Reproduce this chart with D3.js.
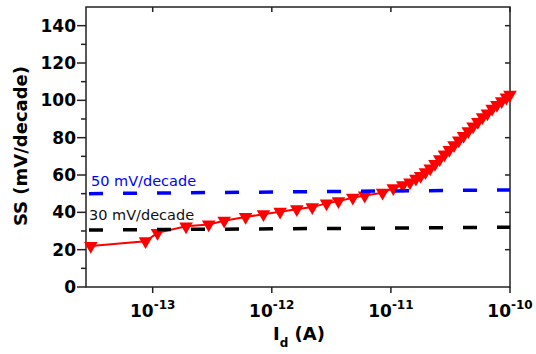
<!DOCTYPE html>
<html><head><meta charset="utf-8">
<script src="https://cdn.jsdelivr.net/npm/d3@7"></script>
<style>body{margin:0;background:#fff}</style>
</head><body>
<svg id="c" width="536" height="354"></svg>
<script>
// data: log10(Id) and SS (mV/decade)
const logId = [-13.52,-13.06,-12.96,-12.72,-12.53,-12.40,-12.22,-12.07,-11.93,-11.79,-11.66,-11.54,-11.44,-11.32,-11.22,-11.07,-10.98,-10.90,-10.84,-10.79,-10.75,-10.71,-10.67,-10.63,-10.59,-10.55,-10.51,-10.47,-10.43,-10.39,-10.35,-10.31,-10.27,-10.23,-10.19,-10.15,-10.11,-10.07,-10.03,-10.00];
const ss = [22,24.5,29,32.5,33.5,35.5,37.5,39,40.3,41.7,42.8,44.8,46,47.8,49,50.5,53,54.5,56,58,59.5,61.5,63.5,66,68.5,71,73.5,76,78.5,81,83.5,86,88.5,91,93,95.5,97.5,99.5,101.5,103];
const refLogId = [-13.56,-10];
const ref50 = [50,52];
const ref30 = [30.5,32];
const xTickExp = [-13,-12,-11,-10];
const yTicks = [0,20,40,60,80,100,120,140];
const yMinor = [10,30,50,70,90,110,130];

const svg = d3.select("#c");
const L=86,R=510,T=7,B=287;
const x = d3.scaleLog().domain([Math.pow(10,-13.56),1e-10]).range([L,R]);
const y = d3.scaleLinear().domain([0,150]).range([B,T]);
const font = "DejaVu Sans";
const axisCol = "#222";

// frame
svg.append("rect").attr("x",L).attr("y",T).attr("width",R-L).attr("height",B-T)
  .attr("fill","none").attr("stroke",axisCol).attr("stroke-width",1.5);

// left axis
const ga = svg.append("g");
yTicks.forEach(v=>{
  ga.append("line").attr("x1",L-9).attr("x2",L).attr("y1",y(v)).attr("y2",y(v)).attr("stroke",axisCol).attr("stroke-width",1.5);
  ga.append("text").attr("x",L-10).attr("y",y(v)+6).attr("text-anchor","end")
    .attr("font-family",font).attr("font-weight","bold").attr("font-size",17).text(v);
  if(v>0) ga.append("line").attr("x1",R-5).attr("x2",R).attr("y1",y(v)).attr("y2",y(v)).attr("stroke",axisCol).attr("stroke-width",1.5);
});
yMinor.forEach(v=>{
  ga.append("line").attr("x1",L-5).attr("x2",L).attr("y1",y(v)).attr("y2",y(v)).attr("stroke",axisCol).attr("stroke-width",1.5);
});
// bottom/top axis
xTickExp.forEach(e=>{
  const xv = x(Math.pow(10,e));
  ga.append("line").attr("x1",xv).attr("x2",xv).attr("y1",B).attr("y2",B+6).attr("stroke",axisCol).attr("stroke-width",1.5);
  ga.append("line").attr("x1",xv).attr("x2",xv).attr("y1",T).attr("y2",T+5).attr("stroke",axisCol).attr("stroke-width",1.5);
  const t = ga.append("text").attr("x",xv).attr("y",317).attr("text-anchor","middle")
    .attr("font-family",font).attr("font-weight","bold").attr("font-size",17);
  t.append("tspan").text("10");
  t.append("tspan").attr("font-size",12).attr("dy",-8).text("-"+Math.abs(e));
});

// axis titles
const xt = svg.append("text").attr("x",299).attr("y",340).attr("text-anchor","middle")
  .attr("font-family",font).attr("font-weight","bold").attr("font-size",18);
xt.append("tspan").text("I");
xt.append("tspan").attr("font-size",12).attr("dy",7).text("d");
xt.append("tspan").attr("dy",-7).text(" (A)");
svg.append("text").attr("transform","translate(27,146) rotate(-90)").attr("text-anchor","middle")
  .attr("font-family",font).attr("font-weight","bold").attr("font-size",18).text("SS (mV/decade)");

// data
const pts = logId.map((l,i)=>[x(Math.pow(10,l)), y(ss[i])]);
svg.append("path").attr("d",d3.line()(pts)).attr("fill","none").attr("stroke","#ff0000").attr("stroke-width",2);
const tri = d3.symbol().type(d3.symbolTriangle).size(80);
svg.append("g").selectAll("path").data(pts).join("path")
  .attr("d",tri).attr("transform",d=>`translate(${d[0]},${d[1]}) rotate(180)`).attr("fill","#ff0000");

// reference lines
function refLine(vals,col){
  const p = refLogId.map((l,i)=>[x(Math.pow(10,l)),y(vals[i])]);
  svg.append("path").attr("d",d3.line()(p)).attr("fill","none").attr("stroke",col)
    .attr("stroke-width",3.5).attr("stroke-dasharray","14,20").attr("stroke-dashoffset",-3);
}
refLine(ref50,"#0000ff");
refLine(ref30,"#000000");
svg.append("text").attr("x",91).attr("y",186).attr("font-family",font).attr("font-size",14.5).attr("fill","#0000ff").text("50 mV/decade");
svg.append("text").attr("x",89).attr("y",220).attr("font-family",font).attr("font-size",14.5).attr("fill","#111").text("30 mV/decade");
</script>
</body></html>
